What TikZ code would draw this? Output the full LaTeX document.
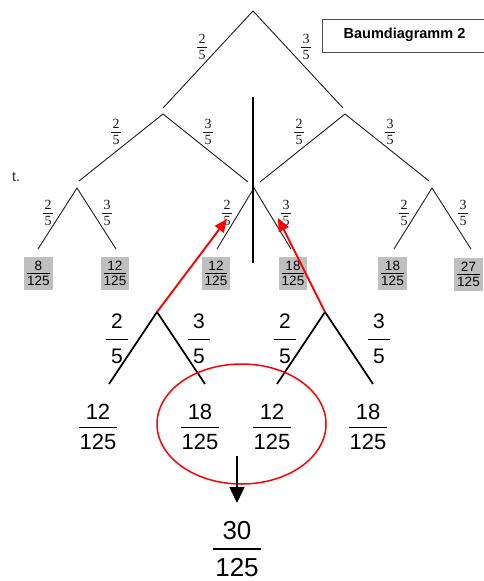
\documentclass[tikz,border=0pt]{standalone}
\usepackage{fontspec}
\setmainfont{Liberation Sans}
\newfontfamily\tnr{Liberation Serif}
\usetikzlibrary{arrows.meta}
% #1 gap, #2 side extension, #3 bar thickness, #4 numerator, #5 denominator
\newcommand{\fr}[5]{\vbox{\offinterlineskip\halign{\hfil\kern#2##\kern#2\hfil\cr\vphantom{0}#4\cr\noalign{\kern#1\hrule height #3\kern#1}\vphantom{0}#5\cr}}}
\newcommand{\sfr}[2]{\fr{2.6pt}{1.6pt}{0.6pt}{#1}{#2}}
\newcommand{\gfr}[2]{\fr{2.2pt}{0pt}{0.6pt}{#1}{#2}}
\newcommand{\bfr}[2]{\fr{6.4pt}{0.8pt}{1pt}{#1}{#2}}
\newcommand{\lfr}[2]{\fr{9.5pt}{5.5pt}{1pt}{#1}{#2}}
\newcommand{\hfr}[2]{\fr{8.5pt}{2.3pt}{1.1pt}{#1}{#2}}
\begin{document}
\begin{tikzpicture}[x=1pt,y=-1pt,
  tline/.style={line width=0.95pt,draw=black!85},
  bline/.style={line width=1.7pt,draw=black},
  slab/.style={inner sep=0pt,font=\tnr\fontsize{14}{14}\selectfont,text=black!90},
  gbox/.style={fill=black!25,inner xsep=2.8pt,inner ysep=4.4pt,font=\fontsize{13.5}{13.5}\selectfont},
  blab/.style={inner sep=0pt,font=\fontsize{21}{21}\selectfont},
  bres/.style={inner sep=0pt,font=\fontsize{22}{22}\selectfont},
  hres/.style={inner sep=0pt,font=\fontsize{26}{26}\selectfont},
  rarrow/.style={line width=1.9pt,draw=red,-{Triangle[length=13pt,width=11pt]}},
  karrow/.style={line width=1.5pt,draw=black,-{Triangle[length=16pt,width=15pt]}}]
\useasboundingbox (0,0) rectangle (484,581);
\clip (0,0) rectangle (484,581);

% title box
\node[draw=black!70,line width=0.9pt,minimum width=175pt,minimum height=33pt,anchor=west,inner sep=0pt] (title) at (322,35.5) {};
\node[font=\bfseries\fontsize{14.5}{14.5}\selectfont,inner sep=0pt] (titletext) at (404.5,35) {Baumdiagramm 2};
\node[font=\fontsize{14}{14}\selectfont,text=black!85,inner sep=0pt] (tdot) at (16,177) {t.};

% top tree coordinates
\coordinate (r) at (253,11);  \coordinate (rl) at (163,108); \coordinate (rr) at (343,108);
\coordinate (a) at (163,114); \coordinate (al) at (79,181);  \coordinate (ar) at (248,182);
\coordinate (b) at (345,114); \coordinate (bl) at (260,182); \coordinate (br) at (429,181);
\coordinate (c1) at (77,188); \coordinate (c1l) at (38,249); \coordinate (c1r) at (116,249);
\coordinate (c2) at (254,188); \coordinate (c2l) at (217,249); \coordinate (c2r) at (291,249);
\coordinate (c3) at (432,188); \coordinate (c3l) at (394,249); \coordinate (c3r) at (471,249);
\coordinate (vt) at (253,97); \coordinate (vb) at (253,263);

\draw[tline] (rl) -- (r) -- (rr);
\draw[tline] (al) -- (a) -- (ar);
\draw[tline] (bl) -- (b) -- (br);
\draw[tline] (c1l) -- (c1) -- (c1r);
\draw[tline] (c2l) -- (c2) -- (c2r);
\draw[tline] (c3l) -- (c3) -- (c3r);
\draw[line width=2pt] (vt) -- (vb);

% top labels
\node[slab] (l1a) at (202,47) {\sfr{2}{5}};
\node[slab] (l1b) at (306,47) {\sfr{3}{5}};
\node[slab] (l2a) at (116,132) {\sfr{2}{5}};
\node[slab] (l2b) at (208,132) {\sfr{3}{5}};
\node[slab] (l2c) at (299,132) {\sfr{2}{5}};
\node[slab] (l2d) at (390,132) {\sfr{3}{5}};
\node[slab] (l3a) at (48,213) {\sfr{2}{5}};
\node[slab] (l3b) at (107,213) {\sfr{3}{5}};
\node[slab] (l3c) at (227,213) {\sfr{2}{5}};
\node[slab] (l3d) at (286,213) {\sfr{3}{5}};
\node[slab] (l3e) at (404,213) {\sfr{2}{5}};
\node[slab] (l3f) at (463,213) {\sfr{3}{5}};

% gray result boxes
\node[gbox] (g1) at (38.5,273.5) {\gfr{8}{125}};
\node[gbox] (g2) at (115,273.5) {\gfr{12}{125}};
\node[gbox] (g3) at (216,273.5) {\gfr{12}{125}};
\node[gbox] (g4) at (293,273.5) {\gfr{18}{125}};
\node[gbox] (g5) at (392.5,273.5) {\gfr{18}{125}};
\node[gbox] (g6) at (468.5,274.5) {\gfr{27}{125}};

% big lower trees
\coordinate (L) at (157,312); \coordinate (Ll) at (109,384); \coordinate (Lr) at (205,384);
\coordinate (Lt) at (227,219);
\coordinate (R) at (325,312); \coordinate (Rl) at (277,384); \coordinate (Rr) at (373,384);
\coordinate (Rt) at (278,218);
\draw[bline] (Ll) -- (L) -- (Lr);
\draw[bline] (Rl) -- (R) -- (Rr);
\draw[rarrow] (L) -- (Lt);
\draw[rarrow] (R) -- (Rt);

\node[blab] (m1) at (117,339) {\lfr{2}{5}};
\node[blab] (m2) at (199,339) {\lfr{3}{5}};
\node[blab] (m3) at (285,339) {\lfr{2}{5}};
\node[blab] (m4) at (379,339) {\lfr{3}{5}};

\node[bres] (f1) at (98,427) {\bfr{12}{125}};
\node[bres] (f2) at (200,427) {\bfr{18}{125}};
\node[bres] (f3) at (272,427) {\bfr{12}{125}};
\node[bres] (f4) at (368,427) {\bfr{18}{125}};

\coordinate (ec) at (241.5,424);
\draw[red,line width=1.5pt] (ec) ellipse [x radius=84.5pt,y radius=60pt];

\coordinate (ka) at (237,456); \coordinate (kb) at (237,503);
\draw[karrow] (ka) -- (kb);
\node[hres] (sum) at (237,549) {\hfr{30}{125}};
\end{tikzpicture}
\end{document}
